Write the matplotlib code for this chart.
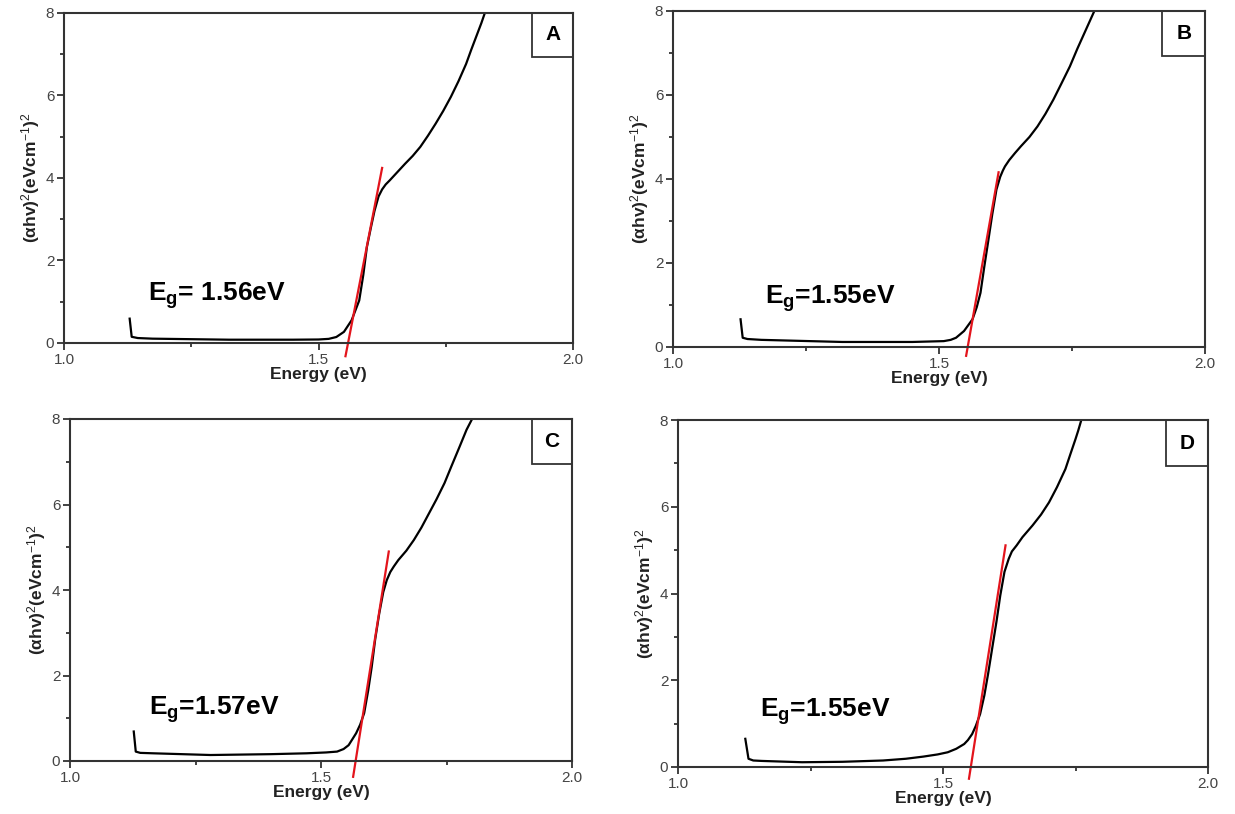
import matplotlib
matplotlib.use("Agg")
import matplotlib.pyplot as plt
import matplotlib.patches as patches

plt.rcParams['font.family'] = ['Liberation Sans', 'DejaVu Sans']
plt.rcParams['mathtext.fontset'] = 'custom'
plt.rcParams['mathtext.rm'] = 'Liberation Sans'
plt.rcParams['mathtext.bf'] = 'Liberation Sans:bold'
plt.rcParams['mathtext.it'] = 'Liberation Sans:italic'

# curves, energy (eV) vs (alpha h nu)^2
energy_a = [1.129, 1.133, 1.145, 1.174, 1.324, 1.45, 1.50, 1.52, 1.535, 1.55, 1.565, 1.58, 1.588, 1.595, 1.603,
            1.61, 1.618, 1.625, 1.632, 1.64, 1.655, 1.67, 1.685, 1.70, 1.715, 1.73, 1.745, 1.76, 1.775, 1.79,
            1.80, 1.812, 1.82, 1.827]
tauc_a = [0.59, 0.15, 0.12, 0.105, 0.08, 0.08, 0.085, 0.10, 0.145, 0.27, 0.55, 1.03, 1.65, 2.32, 2.8,
          3.2, 3.55, 3.72, 3.84, 3.94, 4.14, 4.34, 4.53, 4.75, 5.02, 5.31, 5.62, 5.96, 6.34, 6.76,
          7.1, 7.49, 7.75, 8.0]

energy_b = [1.127, 1.131, 1.14, 1.166, 1.318, 1.45, 1.509, 1.522, 1.532, 1.547, 1.563, 1.571, 1.578, 1.585,
            1.593, 1.60, 1.608, 1.615, 1.62, 1.624, 1.632, 1.643, 1.654, 1.67, 1.685, 1.70, 1.715, 1.73,
            1.746, 1.76, 1.776, 1.792]
tauc_b = [0.66, 0.22, 0.19, 0.17, 0.12, 0.12, 0.14, 0.17, 0.22, 0.38, 0.66, 0.95, 1.29, 1.9,
          2.56, 3.15, 3.75, 4.05, 4.2, 4.3, 4.45, 4.62, 4.78, 5.0, 5.25, 5.55, 5.89, 6.27,
          6.68, 7.1, 7.55, 8.0]

energy_c = [1.127, 1.131, 1.14, 1.166, 1.28, 1.40, 1.471, 1.51, 1.532, 1.545, 1.555, 1.562, 1.57, 1.578,
            1.586, 1.594, 1.601, 1.608, 1.616, 1.624, 1.631, 1.638, 1.645, 1.654, 1.67, 1.685, 1.70,
            1.715, 1.73, 1.746, 1.76, 1.776, 1.79, 1.801]
tauc_c = [0.69, 0.22, 0.19, 0.18, 0.14, 0.16, 0.18, 0.2, 0.22, 0.28, 0.37, 0.5, 0.65, 0.85,
          1.12, 1.65, 2.2, 2.85, 3.45, 3.95, 4.23, 4.42, 4.55, 4.7, 4.92, 5.17, 5.46,
          5.79, 6.12, 6.5, 6.9, 7.35, 7.75, 8.0]

energy_d = [1.127, 1.133, 1.142, 1.158, 1.234, 1.31, 1.387, 1.43, 1.463, 1.49, 1.509, 1.525, 1.54, 1.547,
            1.555, 1.562, 1.57, 1.578, 1.585, 1.593, 1.601, 1.608, 1.616, 1.624, 1.63, 1.639, 1.65,
            1.669, 1.685, 1.70, 1.715, 1.731, 1.74, 1.75, 1.755, 1.761]
tauc_d = [0.65, 0.19, 0.15, 0.14, 0.11, 0.12, 0.15, 0.19, 0.24, 0.29, 0.34, 0.42, 0.53, 0.62,
          0.76, 0.95, 1.22, 1.65, 2.14, 2.75, 3.36, 3.95, 4.5, 4.8, 4.97, 5.11, 5.3,
          5.57, 5.82, 6.1, 6.45, 6.87, 7.2, 7.56, 7.75, 8.0]

# red tangent lines (two end points each)
fit_x = [[1.553, 1.625], [1.551, 1.612], [1.564, 1.635], [1.549, 1.618]]
fit_y = [[-0.32, 4.24], [-0.21, 4.16], [-0.37, 4.9], [-0.27, 5.11]]

panel_letters = ['A', 'B', 'C', 'D']
gap_labels = ['E$_\\mathbf{g}$= 1.56eV', 'E$_\\mathbf{g}$=1.55eV', 'E$_\\mathbf{g}$=1.57eV', 'E$_\\mathbf{g}$=1.55eV']
gap_pos = [(1.165, 1.03), (1.173, 1.04), (1.158, 1.08), (1.154, 1.15)]

x_ticks = [1.0, 1.5, 2.0]
x_ticklabels = ['1.0', '1.5', '2.0']
y_ticks = [0, 2, 4, 6, 8]

energies = [energy_a, energy_b, energy_c, energy_d]
taucs = [tauc_a, tauc_b, tauc_c, tauc_d]

W, H = 1235, 814
# axes boxes in pixels: left, right, top, bottom
boxes = [(64, 573, 12.7, 343), (673, 1205, 11, 347), (70, 572, 419, 761), (678, 1208, 420, 767)]

fig = plt.figure(figsize=(W / 100, H / 100), dpi=100)

for i in range(4):
	l, r, t, b = boxes[i]
	ax = fig.add_axes([l / W, 1 - b / H, (r - l) / W, (b - t) / H])
	ax.plot(energies[i], taucs[i], color='black', lw=1.6, solid_joinstyle='round')
	ax.plot(fit_x[i], fit_y[i], color='#e3141c', lw=1.6, clip_on=False)
	ax.set_xlim(1.0, 2.0)
	ax.set_ylim(0, 8)
	ax.set_xticks(x_ticks, labels=x_ticklabels)
	ax.set_yticks(y_ticks)
	ax.set_xticks([1.25, 1.75], minor=True)
	ax.set_yticks([1, 3, 5, 7], minor=True)
	ax.tick_params(which='both', direction='out', colors='#333333', labelcolor='#444444', labelsize=11, width=1.3)
	ax.tick_params(which='major', length=5, pad=2)
	ax.tick_params(which='minor', length=3)
	for s in ax.spines.values():
		s.set_linewidth(1.5)
		s.set_color('#333333')
	ax.set_xlabel('Energy (eV)', fontsize=12.5, fontweight='bold', color='#222222', labelpad=0)
	ax.set_ylabel('(αhv)$^2$(eVcm$^{-1}$)$^2$', fontsize=12.5, fontweight='bold', color='#222222', labelpad=3)
	ax.text(gap_pos[i][0], gap_pos[i][1], gap_labels[i], fontsize=19, fontweight='bold', ha='left', va='baseline')
	ax.add_patch(patches.Rectangle((0.92, 0.867), 0.08, 0.133, transform=ax.transAxes, fill=False, lw=1.3, edgecolor='#333333'))
	ax.text(0.96, 0.933, panel_letters[i], transform=ax.transAxes, ha='center', va='center', fontsize=15, fontweight='bold')

fig.savefig('out.png', dpi=100)
